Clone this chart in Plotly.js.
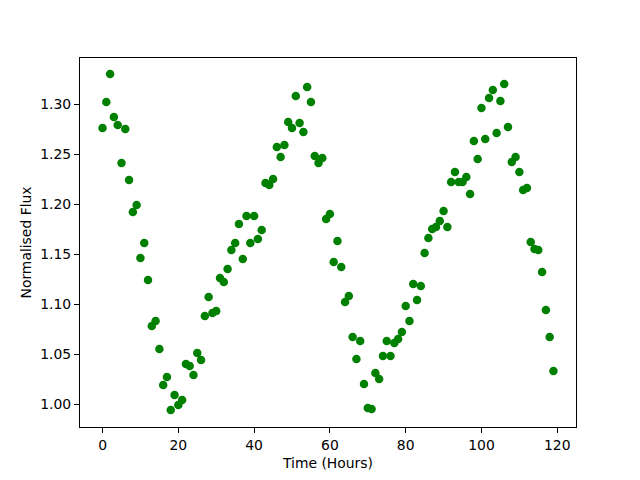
<!DOCTYPE html>
<html>
<head>
<meta charset="utf-8">
<script src="https://cdn.plot.ly/plotly-3.0.1.min.js"></script>
<style>html,body{margin:0;padding:0;background:#fff;}#chart{width:640px;height:480px;}</style>
</head>
<body>
<div id="chart"></div>
<script>
const hours = Array.from({length: 120}, (_, i) => i);
const flux = [
  1.276, 1.302, 1.330, 1.287, 1.279, 1.241, 1.275, 1.224, 1.192, 1.199,
  1.146, 1.161, 1.124, 1.078, 1.083, 1.055, 1.019, 1.027, 0.994, 1.009,
  0.999, 1.004, 1.040, 1.038, 1.029, 1.051, 1.044, 1.088, 1.107, 1.091,
  1.093, 1.126, 1.122, 1.135, 1.154, 1.161, 1.180, 1.145, 1.188, 1.161,
  1.188, 1.165, 1.174, 1.221, 1.219, 1.225, 1.257, 1.247, 1.259, 1.282,
  1.276, 1.308, 1.281, 1.272, 1.317, 1.302, 1.248, 1.241, 1.246, 1.185,
  1.190, 1.142, 1.163, 1.137, 1.102, 1.108, 1.067, 1.045, 1.063, 1.020,
  0.996, 0.995, 1.031, 1.025, 1.048, 1.063, 1.048, 1.061, 1.065, 1.072,
  1.098, 1.083, 1.120, 1.104, 1.118, 1.151, 1.166, 1.175, 1.177, 1.183,
  1.193, 1.177, 1.222, 1.232, 1.222, 1.222, 1.227, 1.210, 1.263, 1.245,
  1.296, 1.265, 1.306, 1.314, 1.271, 1.303, 1.320, 1.277, 1.242, 1.247,
  1.232, 1.214, 1.216, 1.162, 1.155, 1.154, 1.132, 1.094, 1.067, 1.033
];
const xTicks = [0, 20, 40, 60, 80, 100, 120];
const yTicks = [1.00, 1.05, 1.10, 1.15, 1.20, 1.25, 1.30];

const font = {family: 'DejaVu Sans', size: 13.9, color: '#000'};
const axisCommon = {
  showgrid: false, zeroline: false, showline: true, mirror: true,
  linecolor: '#000', linewidth: 1, ticks: 'outside', ticklen: 5, tickwidth: 1,
  tickcolor: '#000', tickfont: font
};
Plotly.newPlot('chart', [{
  x: hours, y: flux, type: 'scatter', mode: 'markers',
  marker: {color: '#008000', size: 8.5}
}], {
  width: 640, height: 480,
  margin: {l: 80, r: 64, t: 58, b: 53},
  paper_bgcolor: '#fff', plot_bgcolor: '#fff',
  showlegend: false,
  font: font,
  xaxis: Object.assign({}, axisCommon, {
    range: [-5.95, 124.95], tickvals: xTicks, ticktext: xTicks.map(String),
    title: {text: 'Time (Hours)', font: font, standoff: 6}
  }),
  yaxis: Object.assign({}, axisCommon, {
    range: [0.977, 1.346], tickvals: yTicks, ticktext: yTicks.map(v => v.toFixed(2)),
    title: {text: 'Normalised Flux', font: font, standoff: 5}
  })
}, {displayModeBar: false, staticPlot: true});
</script>
</body>
</html>
